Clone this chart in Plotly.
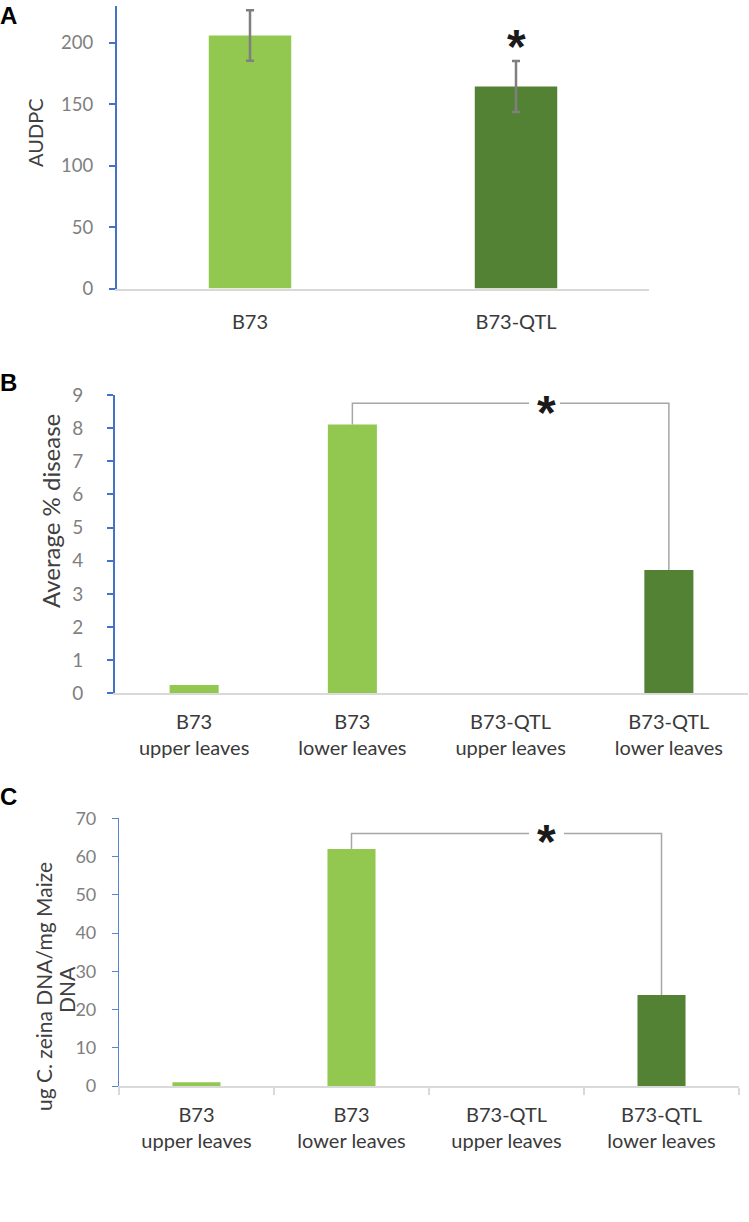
import plotly.graph_objects as go

W, H = 749, 1222

# ---------------- data ----------------
a_categories = ["B73", "B73-QTL"]
a_values = [206.0, 164.5]
a_errors = [20.5, 20.8]
a_yticks = [0, 50, 100, 150, 200]

bc_categories = ["B73<br>upper leaves", "B73<br>lower leaves",
                 "B73-QTL<br>upper leaves", "B73-QTL<br>lower leaves"]
b_values = [0.25, 8.11, 0.0, 3.72]
b_yticks = [0, 1, 2, 3, 4, 5, 6, 7, 8, 9]

c_values = [1.0, 62.0, 0.0, 23.8]
c_yticks = [0, 10, 20, 30, 40, 50, 60, 70]

# significance brackets (bar index pairs, bracket level, star position, line gap)
b_pair = [1, 3]
b_level = 8.75
b_star = (2.224, 8.65)
b_gap = (2.116, 2.312)

c_pair = [1, 3]
c_level = 66.0
c_star = (2.255, 65.6)
c_gap = (2.145, 2.371)

a_star = (1, 202.0)

LIGHT = "#92C850"
DARK = "#548235"
a_colors = [LIGHT, DARK]
bc_colors = [LIGHT, LIGHT, DARK, DARK]

BLUE = "#4472C4"
XLINE = "#D9D9D9"
TICKGRAY = "#7F7F7F"
TEXT = "#3A3A3A"
FONT = "Lato"


def px_x(p):
    return p / W


def px_y(p):
    return 1 - p / H


fig = go.Figure()

# Panel A
fig.add_trace(go.Bar(
    x=list(range(len(a_categories))), y=a_values, width=0.31,
    marker=dict(color=a_colors, line=dict(width=0)),
    error_y=dict(type="data", array=a_errors, color="#7F7F7F", thickness=2.5, width=4),
    xaxis="x", yaxis="y", showlegend=False))

# Panel B
fig.add_trace(go.Bar(
    x=list(range(len(bc_categories))), y=b_values, width=0.31,
    marker=dict(color=bc_colors, line=dict(width=0)),
    xaxis="x2", yaxis="y2", showlegend=False))

# Panel C
fig.add_trace(go.Bar(
    x=list(range(len(bc_categories))), y=c_values, width=0.31,
    marker=dict(color=bc_colors, line=dict(width=0)),
    xaxis="x3", yaxis="y3", showlegend=False))


def bracket(values, pair, level, gap, xa, ya):
    i, j = pair
    fig.add_trace(go.Scatter(
        x=[i, i, gap[0], None, gap[1], j, j],
        y=[values[i], level, level, None, level, level, values[j]],
        mode="lines", line=dict(color="#A6A6A6", width=1.5),
        xaxis=xa, yaxis=ya, showlegend=False, hoverinfo="skip"))


bracket(b_values, b_pair, b_level, b_gap, "x2", "y2")
bracket(c_values, c_pair, c_level, c_gap, "x3", "y3")

star_font = dict(family="Liberation Sans", size=48, color="#1A1A1A")
annotations = []
for (sx, sy), xr, yr in [(a_star, "x", "y"), (b_star, "x2", "y2"), (c_star, "x3", "y3")]:
    annotations.append(dict(x=sx, y=sy, xref=xr, yref=yr, text="<b>*</b>",
                            showarrow=False, font=star_font,
                            xanchor="center", yanchor="middle", yshift=-6))

# panel letters
for letter, yc in [("A", 15), ("B", 382), ("C", 796)]:
    annotations.append(dict(x=0, y=px_y(yc), xref="paper", yref="paper",
                            text="<b>%s</b>" % letter, showarrow=False,
                            xanchor="left", yanchor="middle", xshift=-2,
                            font=dict(family="Liberation Sans", size=24, color="#000000")))

# y axis titles
for txt, xc, yc, size in [("AUDPC", 35, 133, 20),
                          ("Average % disease", 50, 511, 24),
                          ("ug C. zeina DNA/mg Maize", 43, 987, 21),
                          ("DNA", 66, 990, 21)]:
    annotations.append(dict(x=px_x(xc), y=px_y(yc), xref="paper", yref="paper",
                            text=txt, showarrow=False, textangle=-90,
                            xanchor="center", yanchor="middle",
                            font=dict(family=FONT, size=size, color="#404040")))


def yaxis(domain, rng, ticks, lw, color, standoff, anchor, fsize):
    return dict(domain=domain, range=rng, tickvals=ticks, showline=True,
                linecolor=color, linewidth=lw, ticks="outside", ticklen=6,
                tickcolor=color, tickwidth=lw, showgrid=False, zeroline=False,
                tickfont=dict(family=FONT, size=fsize, color=TICKGRAY),
                ticklabelstandoff=standoff, anchor=anchor, fixedrange=True,
                automargin=False)


def xaxis(domain, n, labels, anchor, standoff, minor=False):
    d = dict(domain=domain, range=[-0.5, n - 0.5], tickvals=list(range(n)),
             ticktext=labels, showline=True, linecolor=XLINE, linewidth=2,
             ticks="", showgrid=False, zeroline=False,
             tickfont=dict(family=FONT, size=20, color=TEXT),
             ticklabelstandoff=standoff, anchor=anchor, fixedrange=True,
             automargin=False)
    if minor:
        d["minor"] = dict(tickmode="array",
                          tickvals=[k - 0.5 for k in range(n + 1)],
                          ticks="outside", ticklen=7, tickcolor=XLINE,
                          tickwidth=2, showgrid=False)
    return d


fig.update_layout(
    width=W, height=H, margin=dict(l=0, r=0, t=0, b=0),
    paper_bgcolor="white", plot_bgcolor="white",
    bargap=0.69,
    xaxis=xaxis([px_x(117), px_x(649)], 2, a_categories, "y", 14),
    yaxis=yaxis([px_y(288.5), px_y(6)], [0, 230], a_yticks, 2, BLUE, 12, "x", 18.5),
    xaxis2=xaxis([px_x(115), px_x(748)], 4, bc_categories, "y2", 10),
    yaxis2=yaxis([px_y(693.3), px_y(395)], [0, 9], b_yticks, 2, BLUE, 20, "x2", 19),
    xaxis3=xaxis([px_x(119), px_x(739)], 4, bc_categories, "y3", 10, minor=True),
    yaxis3=yaxis([px_y(1086), px_y(818.3)], [0, 70], c_yticks, 1.2, "#5B84D0", 12, "x3", 18),
    annotations=annotations,
)

fig.write_html("out.html", config={"displayModeBar": False},
               post_script="document.body.style.margin='0';")
